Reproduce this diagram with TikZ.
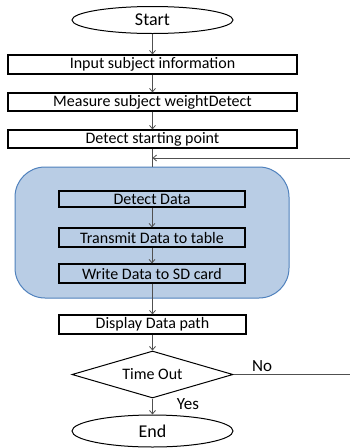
\documentclass[tikz,border=0pt]{standalone}
\usepackage{fontspec}
\setmainfont{Carlito}
\usetikzlibrary{shapes.geometric,arrows.meta}
\definecolor{grpfill}{RGB}{185,205,229}
\definecolor{grpdraw}{RGB}{79,129,189}
\definecolor{linegray}{RGB}{80,80,80}
\begin{document}
\begin{tikzpicture}[x=1pt,y=-1pt,
  term/.style={draw=black,line width=1pt,ellipse,minimum width=161pt,minimum height=#1,inner sep=0pt,font=\fontsize{18}{20}\selectfont},
  proc/.style={draw=black,line width=1.1pt,rectangle,inner sep=0pt,font=\fontsize{16}{18}\selectfont},
  inner/.style={draw=black,line width=1.1pt,rectangle,inner sep=0pt,minimum width=186pt,font=\fontsize{16}{18}\selectfont},
  decis/.style={draw=black,line width=1pt,diamond,aspect=3.4,minimum width=161pt,minimum height=47pt,inner sep=0pt,font=\fontsize{16}{18}\selectfont},
  conn/.style={draw=linegray,line width=0.8pt},
  arr/.style={conn,-{Straight Barb[length=3.5pt,width=6pt]}},
  lbl/.style={font=\fontsize{17}{19}\selectfont,inner sep=0pt}]
\useasboundingbox (0,0) rectangle (350,448);
\fill[white] (0,0) rectangle (350,448);
\node[term=27pt] (start) at (152.5,20) {Start};
\node[proc,minimum width=289pt,minimum height=19pt] (b1) at (152.5,64.5) {Input subject information};
\node[proc,minimum width=289pt,minimum height=18pt] (b2) at (152.5,102) {Measure subject weightDetect};
\node[proc,minimum width=289pt,minimum height=18pt] (b3) at (152.5,139) {Detect starting point};
\node[draw=grpdraw,fill=grpfill,line width=1pt,rectangle,rounded corners=30pt,minimum width=274pt,minimum height=131pt,inner sep=0pt] (grp) at (152,232.5) {};
\node[inner,minimum height=16pt] (d1) at (152,199) {Detect Data};
\node[inner,minimum height=19pt] (d2) at (152,237.5) {Transmit Data to table};
\node[inner,minimum height=19pt] (d3) at (152,273.5) {Write Data to SD card};
\node[proc,minimum width=187pt,minimum height=19pt] (disp) at (152.5,324.5) {Display Data path};
\node[decis] (dia) at (152.5,374.5) {Time Out};
\node[term=32pt] (end) at (152.5,431) {End};
\coordinate (fb) at (350,158);
\coordinate (no) at (350,374.5);
\draw[arr] (start) -- (b1);
\draw[arr] (b1) -- (b2);
\draw[arr] (b2) -- (b3);
\draw[conn] (b3) -- (b3.south |- grp.north);
\draw[arr] (fb) -- (b3.south |- fb);
\draw[arr] (d1) -- (d2);
\draw[arr] (d2) -- (d3);
\draw[arr] (d3.south -| disp.north) -- (disp);
\draw[arr] (disp) -- (dia);
\draw[arr] (dia) -- (end);
\draw[conn] (dia.east) -- (no);
\node[lbl,anchor=center] (nolbl) at (262,366) {No};
\node[lbl,anchor=center] (yeslbl) at (188,404) {Yes};
\end{tikzpicture}
\end{document}
